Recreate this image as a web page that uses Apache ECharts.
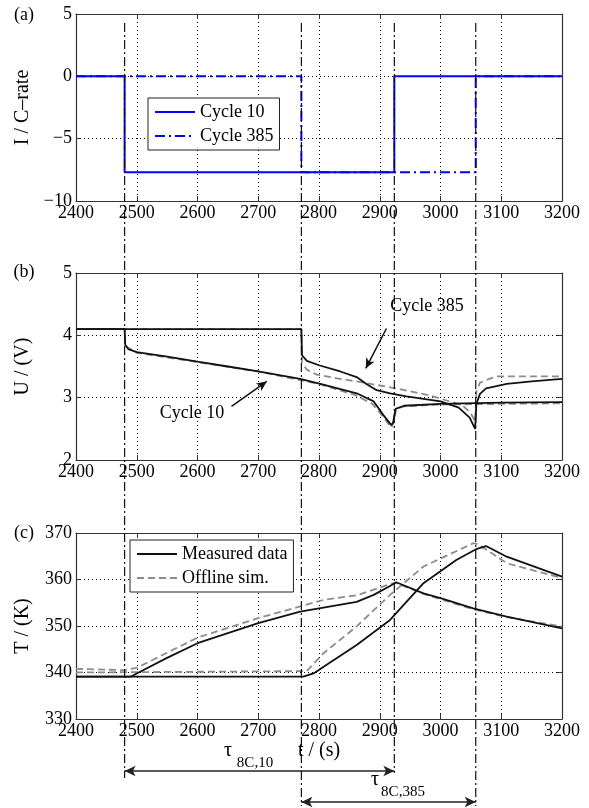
<!DOCTYPE html>
<html>
<head>
<meta charset="utf-8">
<title>8C discharge - current, voltage, temperature</title>
<script src="https://cdn.jsdelivr.net/npm/echarts@6/dist/echarts.min.js"></script>
<style>html,body{margin:0;padding:0;background:#fff;}</style>
</head>
<body>
<div id="main" style="width:589px;height:808px;"></div>
<script type="text/javascript">
// event times (s): start / end of the 8C discharge for cycle 10 and cycle 385
var tEvents = [2480, 2771, 2924, 3058];

// (a) current in C-rate
var iCycle10 = [[2400, 0], [2480, 0], [2480, -7.7], [2924, -7.7], [2924, 0], [3200, 0]];
var iCycle385 = [[2400, 0], [2771, 0], [2771, -7.7], [3058, -7.7], [3058, 0], [3200, 0]];

// (b) voltage, measured and simulated
var uMeas10 = [[2400, 4.10], [2480, 4.10], [2481, 3.85], [2486, 3.78], [2500, 3.73], [2550, 3.66], [2600, 3.58],
    [2650, 3.50], [2700, 3.42], [2769, 3.30], [2807, 3.21], [2862, 3.07], [2890, 2.94], [2906, 2.72],
    [2919, 2.56], [2922, 2.60], [2926, 2.82], [2940, 2.87], [3000, 2.90], [3100, 2.92], [3200, 2.93]];
var uSim10 = [[2400, 4.10], [2480, 4.10], [2481, 3.83], [2500, 3.72], [2600, 3.57], [2700, 3.42], [2800, 3.22],
    [2860, 3.04], [2888, 2.90], [2905, 2.70], [2919, 2.52], [2923, 2.60], [2927, 2.82], [2940, 2.86],
    [3000, 2.89], [3100, 2.90], [3200, 2.91]];
var uMeas385 = [[2400, 4.10], [2771, 4.10], [2772, 3.68], [2780, 3.59], [2800, 3.52], [2835, 3.42], [2862, 3.33],
    [2878, 3.22], [2895, 3.12], [2917, 3.07], [2944, 3.02], [3000, 2.94], [3030, 2.84], [3048, 2.68],
    [3057, 2.50], [3059, 2.90], [3065, 3.06], [3075, 3.15], [3109, 3.22], [3150, 3.26], [3200, 3.30]];
var uSim385 = [[2400, 4.10], [2771, 4.10], [2772, 3.55], [2780, 3.45], [2796, 3.37], [2830, 3.31], [2862, 3.26],
    [2926, 3.15], [2981, 3.04], [3036, 2.88], [3050, 2.75], [3057, 2.62], [3059, 3.10], [3065, 3.24],
    [3080, 3.30], [3092, 3.34], [3200, 3.34]];

// (c) temperature, measured and simulated
var tMeas10 = [[2400, 339.1], [2490, 339.1], [2500, 339.8], [2549, 343.1], [2600, 346.3], [2700, 350.6],
    [2769, 353.1], [2862, 355.2], [2890, 356.7], [2917, 358.6], [2927, 359.4], [2972, 357.0], [3000, 356.0],
    [3054, 353.8], [3109, 352.0], [3200, 349.5]];
var tSim10 = [[2400, 340.8], [2480, 340.5], [2500, 341.0], [2600, 347.5], [2700, 351.7], [2769, 354.2],
    [2807, 355.6], [2862, 356.6], [2917, 359.0], [2926, 359.3], [2972, 356.9], [3054, 353.6], [3109, 351.9],
    [3200, 349.9]];
var tMeas385 = [[2400, 339.1], [2774, 339.1], [2791, 339.8], [2807, 341.2], [2862, 345.9], [2917, 351.3],
    [2972, 359.2], [3026, 364.2], [3060, 366.6], [3075, 367.2], [3109, 364.9], [3200, 360.6]];
var tSim385 = [[2400, 340.0], [2780, 340.3], [2807, 344.1], [2862, 349.9], [2917, 356.7], [2972, 362.8],
    [3054, 367.8], [3062, 367.6], [3109, 363.5], [3200, 360.3]];

// tau arrows: [from, to] in seconds
var tau10 = [2480, 2924];
var tau385 = [2771, 3058];

var serif = 'Liberation Serif';
var blue = '#0000ff';
var gray = '#8c8c8c';
var dashDot = [10, 4, 2, 4];

var grids = [
    {left: 76, top: 14, width: 486, height: 187},
    {left: 76, top: 273, width: 486, height: 187},
    {left: 76, top: 533, width: 486, height: 186},
    {left: 76, top: 0, width: 486, height: 808}   // overlay for the event lines
];
grids.forEach(function (g) { g.outerBoundsMode = 'none'; });

var yRanges = [[-10, 5, 5], [2, 5, 1], [330, 370, 10]];
var yNames = ['I / C\u2013rate', 'U / (V)', 'T / (K)'];

function minus(v) { return String(v).replace('-', '\u2212'); }

var xAxes = [], yAxes = [];
for (var i = 0; i < 3; i++) {
    xAxes.push({
        gridIndex: i, type: 'value', min: 2400, max: 3200, interval: 100, position: 'bottom',
        axisLine: {onZero: false, lineStyle: {color: '#333', width: 1.2}},
        axisTick: {inside: true, length: 5, lineStyle: {color: '#333'}},
        axisLabel: {color: '#000', fontFamily: serif, fontSize: 18, margin: 3, formatter: function (v) { return String(v); }},
        splitLine: {show: true, lineStyle: {color: '#000', type: [1, 3], width: 1}},
        name: i === 2 ? 't / (s)' : '', nameLocation: 'middle', nameGap: 22,
        nameTextStyle: {color: '#000', fontFamily: serif, fontSize: 20}
    });
    xAxes.push({
        gridIndex: i, type: 'value', min: 2400, max: 3200, interval: 100, position: 'top',
        axisLine: {onZero: false, lineStyle: {color: '#333', width: 1.2}},
        axisTick: {inside: true, length: 5, lineStyle: {color: '#333'}},
        axisLabel: {show: false}, splitLine: {show: false}
    });
    yAxes.push({
        gridIndex: i, type: 'value', min: yRanges[i][0], max: yRanges[i][1], interval: yRanges[i][2],
        position: 'left',
        axisLine: {show: true, onZero: false, lineStyle: {color: '#333', width: 1.2}},
        axisTick: {show: true, inside: true, length: 5, lineStyle: {color: '#333'}},
        axisLabel: {color: '#000', fontFamily: serif, fontSize: 18, margin: 4, formatter: minus},
        splitLine: {show: true, lineStyle: {color: '#000', type: [1, 3], width: 1}},
        name: yNames[i], nameLocation: 'middle', nameGap: 43,
        nameTextStyle: {color: '#000', fontFamily: serif, fontSize: 20}
    });
    yAxes.push({
        gridIndex: i, type: 'value', min: yRanges[i][0], max: yRanges[i][1], interval: yRanges[i][2],
        position: 'right',
        axisLine: {show: true, onZero: false, lineStyle: {color: '#333', width: 1.2}},
        axisTick: {show: true, inside: true, length: 5, lineStyle: {color: '#333'}},
        axisLabel: {show: false}, splitLine: {show: false}
    });
}
// overlay axes (index 6): time across, page height down
xAxes.push({gridIndex: 3, type: 'value', min: 2400, max: 3200, show: false});
yAxes.push({gridIndex: 3, type: 'value', min: 0, max: 808, inverse: true, show: false});

function ln(name, data, p, color, type, width, z) {
    return {
        name: name, type: 'line', data: data, xAxisIndex: 2 * p, yAxisIndex: 2 * p,
        symbol: 'none', animation: false, z: z || 2,
        lineStyle: {color: color, type: type, width: width},
        itemStyle: {color: color}
    };
}

var series = [
    ln('Cycle 10', iCycle10, 0, blue, 'solid', 2, 3),
    ln('Cycle 385', iCycle385, 0, blue, dashDot, 2, 2),
    ln('U sim 10', uSim10, 1, gray, [7, 4], 1.8),
    ln('U sim 385', uSim385, 1, gray, [7, 4], 1.8),
    ln('U meas 10', uMeas10, 1, '#111', 'solid', 1.8, 3),
    ln('U meas 385', uMeas385, 1, '#111', 'solid', 1.8, 3),
    ln('Offline sim.', tSim10, 2, gray, [7, 4], 1.8),
    ln('Offline sim.', tSim385, 2, gray, [7, 4], 1.8),
    ln('Measured data', tMeas10, 2, '#111', 'solid', 1.8, 3),
    ln('Measured data', tMeas385, 2, '#111', 'solid', 1.8, 3)
];

// annotation arrows in (b)
series[4].markLine = {
    silent: true, animation: false, symbol: ['none', 'arrow'], symbolSize: [7, 10],
    label: {show: false},
    lineStyle: {color: '#111', type: 'solid', width: 1.5},
    data: [
        [{coord: [2656, 2.86]}, {coord: [2714, 3.26]}],
        [{coord: [2911, 4.11]}, {coord: [2877, 3.47]}]
    ]
};

// vertical event lines through all panels
var eventTop = 23;
var eventBottom = [778, 806, 773, 806];
tEvents.forEach(function (t, k) {
    series.push({
        type: 'line', xAxisIndex: 6, yAxisIndex: 6, symbol: 'none', animation: false, silent: true, z: 5,
        data: [[t, eventTop], [t, eventBottom[k]]],
        lineStyle: {color: '#111', width: 1.2, type: [9, 3, 2, 3]}
    });
});
// tau arrows
series[series.length - 1].markLine = {
    silent: true, animation: false, symbol: ['arrow', 'arrow'], symbolSize: [8, 11],
    label: {show: false},
    lineStyle: {color: '#222', type: 'solid', width: 1.6},
    data: [
        [{coord: [tau10[0], 771]}, {coord: [tau10[1], 771]}],
        [{coord: [tau385[0], 802]}, {coord: [tau385[1], 802]}]
    ]
};

var legendBase = {
    orient: 'vertical', itemWidth: 40, itemHeight: 20, itemGap: 4, padding: [4, 6, 4, 6],
    borderColor: '#222', borderWidth: 1, borderRadius: 0, backgroundColor: '#fff',
    selectedMode: false, z: 10,
    itemStyle: {opacity: 0},
    textStyle: {color: '#000', fontFamily: serif, fontSize: 18, lineHeight: 20}
};

function txt(x, y, s, size) {
    return {
        type: 'text', x: x, y: y, z: 20,
        style: {text: s, fill: '#000', font: size + 'px "' + serif + '"', textAlign: 'center', textVerticalAlign: 'middle'}
    };
}

var myChart = echarts.init(document.getElementById('main'), null, {renderer: 'canvas'});
myChart.setOption({
    backgroundColor: '#fff',
    animation: false,
    grid: grids,
    xAxis: xAxes,
    yAxis: yAxes,
    legend: [
        echarts.util.merge({left: 148, top: 98, data: ['Cycle 10', 'Cycle 385']}, legendBase),
        echarts.util.merge({left: 130, top: 540, data: ['Measured data', 'Offline sim.']}, legendBase)
    ],
    series: series,
    graphic: [
        txt(24, 15, '(a)', 18),
        txt(24, 272, '(b)', 18),
        txt(24, 533, '(c)', 18),
        txt(192, 413, 'Cycle 10', 18),
        txt(427, 306, 'Cycle 385', 18),
        txt(228, 751, '\u03c4', 20),
        txt(255, 763, '8C,10', 15),
        txt(375, 780, '\u03c4', 20),
        txt(403, 792, '8C,385', 15)
    ]
});
</script>
</body>
</html>
